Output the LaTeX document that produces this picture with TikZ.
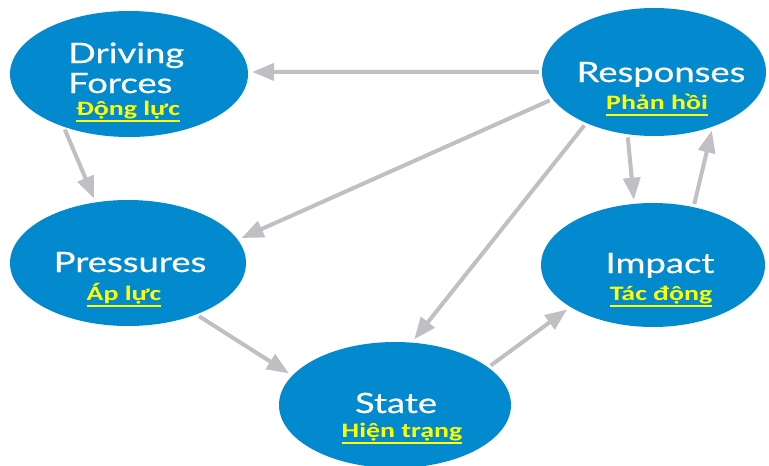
\documentclass[tikz,border=0pt]{standalone}
\usepackage{fontspec}
\usetikzlibrary{shapes.geometric,arrows.meta}

% wide display faces for the stage names and the Vietnamese captions
\newfontfamily\headfont[FakeStretch=1.3,FakeBold=0.6]{Lato}
\newfontfamily\vnfont[FakeStretch=1.36]{Carlito}

\definecolor{nodeblue}{RGB}{2,137,206}
\definecolor{arrowgrey}{RGB}{192,192,196}
\definecolor{labelyellow}{RGB}{255,255,0}

% thick underline sitting below the descenders
\newcommand\yellowul[1]{\sbox0{#1}\rlap{\rule[-6.5pt]{\wd0}{2pt}}\usebox0}

\tikzset{
  stage/.style={ellipse, fill=nodeblue, inner sep=0pt},
  heading/.style={font=\headfont\fontsize{28}{30}\selectfont, text=white, inner sep=0pt},
  vnlabel/.style={font=\vnfont\bfseries\fontsize{20.5}{22}\selectfont, text=labelyellow,
                  anchor=base, inner sep=0pt},
  flow/.style={draw=arrowgrey, line width=4pt, -{Triangle[length=22pt,width=17pt]},
               shorten <=3pt, shorten >=4pt}
}

\begin{document}
\begin{tikzpicture}[x=1pt,y=-1pt]
\useasboundingbox[fill=white] (0,0) rectangle (769,466);

% DPSIR stages
\node[stage, minimum width=238pt, minimum height=126pt] (df) at (129,74) {};
\node[stage, minimum width=224pt, minimum height=128pt] (rs) at (654,72) {};
\node[stage, minimum width=236pt, minimum height=126pt] (pr) at (128,263) {};
\node[stage, minimum width=224pt, minimum height=124pt] (im) at (653,265) {};
\node[stage, minimum width=232pt, minimum height=126pt] (st) at (395,405) {};

% stage names
\node[heading, anchor=base west] (dfa) at (68,63) {Driving};
\node[heading, anchor=base west] (dfb) at (68,93) {Forces};
\node[heading, anchor=base] (rst) at (661,82) {Responses};
\node[heading, anchor=base] (prt) at (130,272) {Pressures};
\node[heading, anchor=base] (imt) at (660,273) {Impact};
\node[heading, anchor=base] (stt) at (396,413) {State};

% Vietnamese captions
\node[vnlabel] (dfv) at (128,115) {\yellowul{Động lực}};
\node[vnlabel] (rsv) at (657,109) {\yellowul{Phản hồi}};
\node[vnlabel] (prv) at (124,300) {\yellowul{Áp lực}};
\node[vnlabel] (imv) at (661,300) {\yellowul{Tác động}};
\node[vnlabel] (stv) at (402,437) {\yellowul{Hiện trạng}};

% causal links
\draw[flow] (rs.180) -- (df.1);
\draw[flow] (df.219) -- (pr.118);
\draw[flow] (rs.195) -- (pr.12);
\draw[flow] (rs.217) -- (st.75);
\draw[flow] (rs.247) -- (im.107);
\draw[flow] (im.55) -- (rs.-43);
\draw[flow] (pr.-37) -- (st.164);
\draw[flow] (st.22) -- (im.207);
\end{tikzpicture}
\end{document}
